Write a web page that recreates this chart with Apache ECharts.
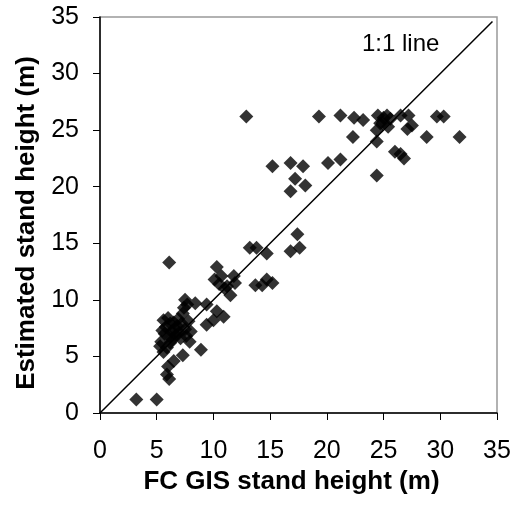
<!DOCTYPE html>
<html>
<head>
<meta charset="utf-8">
<script src="https://cdn.jsdelivr.net/npm/echarts@6/dist/echarts.min.js"></script>
<style>html,body{margin:0;padding:0;background:#fff}#c{width:517px;height:507px}</style>
</head>
<body>
<div id="c"></div>
<script>
var fcGis = [3.2,5.0,6.1,5.9,6.0,6.5,7.3,8.9,5.6,6.1,
  5.3,5.4,5.5,5.6,5.7,5.8,6.0,6.1,6.2,6.3,6.4,6.5,6.6,6.7,6.8,6.9,7.0,7.1,7.2,7.3,7.4,7.5,7.5,7.6,7.8,7.9,8.0,7.7,8.4,6.2,5.9,
  9.4,9.4,10.0,10.3,10.9,10.3,10.1,10.7,11.5,11.2,11.8,11.9,10.5,11.0,
  12.9,13.2,13.8,14.7,13.7,14.3,14.7,15.2,
  15.2,16.8,17.9,17.2,16.8,18.1,17.4,16.8,17.6,
  19.3,20.1,21.2,21.2,22.3,22.4,23.2,24.4,24.4,24.4,24.5,24.7,25.0,25.3,24.9,25.4,25.6,
  26.0,26.5,26.8,26.5,27.2,27.1,27.5,28.8,29.7,30.3,31.7];
var estimated = [1.2,1.2,3.0,3.4,4.1,4.6,5.1,5.6,5.4,13.3,
  5.9,6.3,7.3,8.2,7.0,7.6,8.4,6.8,7.9,7.2,6.5,8.0,7.4,6.9,7.7,8.3,7.1,6.6,7.9,8.8,9.3,10.0,7.4,6.8,8.1,6.3,7.2,9.6,9.7,6.2,5.8,
  9.6,7.8,8.2,9.0,8.5,12.9,11.8,12.1,10.4,11.2,12.1,11.5,11.4,11.0,
  26.2,14.6,14.6,14.1,11.3,11.3,11.8,11.5,
  21.8,22.1,21.8,20.7,19.6,20.1,15.8,14.3,14.6,
  26.2,22.1,26.3,22.4,24.4,26.1,25.9,21.0,24.0,25.0,26.3,25.6,26.1,26.3,25.6,25.3,26.0,
  23.1,22.9,22.5,26.3,26.3,25.1,25.4,24.4,26.2,26.2,24.4];
var lineX = [0, 34.6];
var lineY = [0, 34.6];

var pts = fcGis.map(function(v,i){return [v, estimated[i]];});
var linePts = lineX.map(function(v,i){return [v, lineY[i]];});

var chart = echarts.init(document.getElementById('c'), null, {renderer:'canvas'});
var font = '"Liberation Sans", Arial, sans-serif';
chart.setOption({
  animation:false,
  backgroundColor:'#fff',
  grid:{left:100,right:20,top:17,bottom:94,show:true,borderColor:'#999',borderWidth:1.5},
  xAxis:{type:'value',min:0,max:35,interval:5,
    name:'FC GIS stand height (m)',nameLocation:'middle',nameGap:56,
    nameTextStyle:{fontFamily:font,fontSize:26,fontWeight:'bold',color:'#000',padding:[0,14,0,0]},
    axisLine:{show:true,onZero:false,lineStyle:{color:'#000',width:1.5}},
    axisTick:{show:true,inside:false,length:7,lineStyle:{color:'#000'}},
    axisLabel:{fontFamily:font,fontSize:25,color:'#000',margin:26},
    splitLine:{show:false}},
  yAxis:{type:'value',min:0,max:35,interval:5,
    name:'Estimated stand height (m)',nameLocation:'middle',nameGap:60,
    nameTextStyle:{fontFamily:font,fontSize:26,fontWeight:'bold',color:'#000',padding:[0,16,0,0]},
    axisLine:{show:true,onZero:false,lineStyle:{color:'#000',width:1.5}},
    axisTick:{show:true,inside:false,length:7,lineStyle:{color:'#000'}},
    axisLabel:{fontFamily:font,fontSize:25,color:'#000',margin:21},
    splitLine:{show:false}},
  series:[
    {type:'line',data:linePts,symbol:'none',lineStyle:{color:'#000',width:1.5},silent:true,z:1},
    {type:'scatter',data:pts,symbol:'diamond',symbolSize:14,itemStyle:{color:'#000'},z:2}
  ],
  graphic:[{type:'text',left:362,top:32,style:{text:'1:1 line',font:'24px "Liberation Sans", Arial, sans-serif',fill:'#000'}}]
});
</script>
</body>
</html>
